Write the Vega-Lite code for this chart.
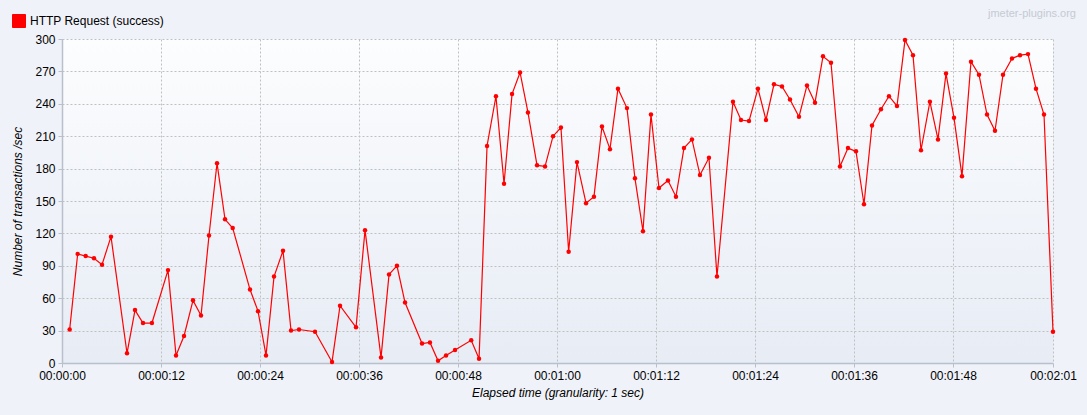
{
  "$schema": "https://vega.github.io/schema/vega-lite/v6.json",
  "width": 991,
  "height": 324,
  "autosize": {"type": "none"},
  "padding": {"left": 62, "top": 39, "right": 34, "bottom": 52},
  "background": "#eff2f8",
  "title": {
    "text": "jmeter-plugins.org",
    "anchor": "end",
    "frame": "group",
    "orient": "top",
    "offset": -5,
    "dx": 23,
    "font": "Liberation Sans",
    "fontSize": 11,
    "fontWeight": "normal",
    "color": "#c5cad4"
  },
  "data": {
    "values": [
      {"series": "HTTP Request (success)", "t": 0.93, "v": 31},
      {"series": "HTTP Request (success)", "t": 1.90, "v": 101},
      {"series": "HTTP Request (success)", "t": 2.87, "v": 99},
      {"series": "HTTP Request (success)", "t": 3.88, "v": 97},
      {"series": "HTTP Request (success)", "t": 4.85, "v": 91},
      {"series": "HTTP Request (success)", "t": 5.94, "v": 117},
      {"series": "HTTP Request (success)", "t": 7.88, "v": 9},
      {"series": "HTTP Request (success)", "t": 8.85, "v": 49},
      {"series": "HTTP Request (success)", "t": 9.82, "v": 37},
      {"series": "HTTP Request (success)", "t": 10.90, "v": 37},
      {"series": "HTTP Request (success)", "t": 12.85, "v": 86},
      {"series": "HTTP Request (success)", "t": 13.82, "v": 7},
      {"series": "HTTP Request (success)", "t": 14.79, "v": 25},
      {"series": "HTTP Request (success)", "t": 15.88, "v": 58},
      {"series": "HTTP Request (success)", "t": 16.85, "v": 44},
      {"series": "HTTP Request (success)", "t": 17.82, "v": 118},
      {"series": "HTTP Request (success)", "t": 18.79, "v": 185},
      {"series": "HTTP Request (success)", "t": 19.76, "v": 133},
      {"series": "HTTP Request (success)", "t": 20.69, "v": 125},
      {"series": "HTTP Request (success)", "t": 22.79, "v": 68},
      {"series": "HTTP Request (success)", "t": 23.76, "v": 48},
      {"series": "HTTP Request (success)", "t": 24.73, "v": 7},
      {"series": "HTTP Request (success)", "t": 25.70, "v": 80},
      {"series": "HTTP Request (success)", "t": 26.79, "v": 104},
      {"series": "HTTP Request (success)", "t": 27.76, "v": 30},
      {"series": "HTTP Request (success)", "t": 28.73, "v": 31},
      {"series": "HTTP Request (success)", "t": 30.67, "v": 29},
      {"series": "HTTP Request (success)", "t": 32.73, "v": 1},
      {"series": "HTTP Request (success)", "t": 33.70, "v": 53},
      {"series": "HTTP Request (success)", "t": 35.64, "v": 33},
      {"series": "HTTP Request (success)", "t": 36.73, "v": 123},
      {"series": "HTTP Request (success)", "t": 38.67, "v": 5},
      {"series": "HTTP Request (success)", "t": 39.64, "v": 82},
      {"series": "HTTP Request (success)", "t": 40.60, "v": 90},
      {"series": "HTTP Request (success)", "t": 41.58, "v": 56},
      {"series": "HTTP Request (success)", "t": 43.64, "v": 18},
      {"series": "HTTP Request (success)", "t": 44.60, "v": 19},
      {"series": "HTTP Request (success)", "t": 45.58, "v": 2},
      {"series": "HTTP Request (success)", "t": 46.55, "v": 7},
      {"series": "HTTP Request (success)", "t": 47.64, "v": 12},
      {"series": "HTTP Request (success)", "t": 49.60, "v": 21},
      {"series": "HTTP Request (success)", "t": 50.55, "v": 4},
      {"series": "HTTP Request (success)", "t": 51.52, "v": 201},
      {"series": "HTTP Request (success)", "t": 52.60, "v": 247},
      {"series": "HTTP Request (success)", "t": 53.58, "v": 166},
      {"series": "HTTP Request (success)", "t": 54.55, "v": 249},
      {"series": "HTTP Request (success)", "t": 55.52, "v": 269},
      {"series": "HTTP Request (success)", "t": 56.48, "v": 232},
      {"series": "HTTP Request (success)", "t": 57.58, "v": 183},
      {"series": "HTTP Request (success)", "t": 58.55, "v": 182},
      {"series": "HTTP Request (success)", "t": 59.52, "v": 210},
      {"series": "HTTP Request (success)", "t": 60.48, "v": 218},
      {"series": "HTTP Request (success)", "t": 61.41, "v": 103},
      {"series": "HTTP Request (success)", "t": 62.42, "v": 186},
      {"series": "HTTP Request (success)", "t": 63.52, "v": 148},
      {"series": "HTTP Request (success)", "t": 64.48, "v": 154},
      {"series": "HTTP Request (success)", "t": 65.45, "v": 219},
      {"series": "HTTP Request (success)", "t": 66.42, "v": 198},
      {"series": "HTTP Request (success)", "t": 67.39, "v": 254},
      {"series": "HTTP Request (success)", "t": 68.48, "v": 236},
      {"series": "HTTP Request (success)", "t": 69.45, "v": 171},
      {"series": "HTTP Request (success)", "t": 70.42, "v": 122},
      {"series": "HTTP Request (success)", "t": 71.39, "v": 230},
      {"series": "HTTP Request (success)", "t": 72.36, "v": 162},
      {"series": "HTTP Request (success)", "t": 73.45, "v": 169},
      {"series": "HTTP Request (success)", "t": 74.42, "v": 154},
      {"series": "HTTP Request (success)", "t": 75.39, "v": 199},
      {"series": "HTTP Request (success)", "t": 76.36, "v": 207},
      {"series": "HTTP Request (success)", "t": 77.33, "v": 174},
      {"series": "HTTP Request (success)", "t": 78.42, "v": 190},
      {"series": "HTTP Request (success)", "t": 79.39, "v": 80},
      {"series": "HTTP Request (success)", "t": 81.33, "v": 242},
      {"series": "HTTP Request (success)", "t": 82.30, "v": 225},
      {"series": "HTTP Request (success)", "t": 83.27, "v": 224},
      {"series": "HTTP Request (success)", "t": 84.36, "v": 254},
      {"series": "HTTP Request (success)", "t": 85.33, "v": 225},
      {"series": "HTTP Request (success)", "t": 86.30, "v": 258},
      {"series": "HTTP Request (success)", "t": 87.27, "v": 256},
      {"series": "HTTP Request (success)", "t": 88.24, "v": 244},
      {"series": "HTTP Request (success)", "t": 89.33, "v": 228},
      {"series": "HTTP Request (success)", "t": 90.30, "v": 257},
      {"series": "HTTP Request (success)", "t": 91.27, "v": 241},
      {"series": "HTTP Request (success)", "t": 92.24, "v": 284},
      {"series": "HTTP Request (success)", "t": 93.21, "v": 278},
      {"series": "HTTP Request (success)", "t": 94.30, "v": 182},
      {"series": "HTTP Request (success)", "t": 95.27, "v": 199},
      {"series": "HTTP Request (success)", "t": 96.24, "v": 196},
      {"series": "HTTP Request (success)", "t": 97.21, "v": 147},
      {"series": "HTTP Request (success)", "t": 98.18, "v": 220},
      {"series": "HTTP Request (success)", "t": 99.27, "v": 235},
      {"series": "HTTP Request (success)", "t": 100.24, "v": 247},
      {"series": "HTTP Request (success)", "t": 101.21, "v": 238},
      {"series": "HTTP Request (success)", "t": 102.18, "v": 299},
      {"series": "HTTP Request (success)", "t": 103.15, "v": 285},
      {"series": "HTTP Request (success)", "t": 104.12, "v": 197},
      {"series": "HTTP Request (success)", "t": 105.20, "v": 242},
      {"series": "HTTP Request (success)", "t": 106.18, "v": 207},
      {"series": "HTTP Request (success)", "t": 107.15, "v": 268},
      {"series": "HTTP Request (success)", "t": 108.12, "v": 227},
      {"series": "HTTP Request (success)", "t": 109.09, "v": 173},
      {"series": "HTTP Request (success)", "t": 110.18, "v": 279},
      {"series": "HTTP Request (success)", "t": 111.15, "v": 267},
      {"series": "HTTP Request (success)", "t": 112.12, "v": 230},
      {"series": "HTTP Request (success)", "t": 113.09, "v": 215},
      {"series": "HTTP Request (success)", "t": 114.06, "v": 267},
      {"series": "HTTP Request (success)", "t": 115.15, "v": 282},
      {"series": "HTTP Request (success)", "t": 116.12, "v": 285},
      {"series": "HTTP Request (success)", "t": 117.09, "v": 286},
      {"series": "HTTP Request (success)", "t": 118.06, "v": 254},
      {"series": "HTTP Request (success)", "t": 119.03, "v": 230},
      {"series": "HTTP Request (success)", "t": 120.12, "v": 29}
    ]
  },
  "mark": {
    "type": "line",
    "strokeWidth": 1.2,
    "point": {"filled": true, "size": 20, "opacity": 1}
  },
  "encoding": {
    "x": {
      "field": "t",
      "type": "quantitative",
      "scale": {"domain": [0, 120.12], "nice": false, "zero": false},
      "axis": {
        "values": [0, 12, 24, 36, 48, 60, 72, 84, 96, 108, 120.12],
        "labelExpr": "datum.value > 120 ? '00:02:01' : utcFormat(datum.value * 1000, '%H:%M:%S')",
        "title": "Elapsed time (granularity: 1 sec)",
        "titlePadding": 6,
        "labelPadding": 3,
        "labelFlush": false,
        "labelOverlap": false
      }
    },
    "y": {
      "field": "v",
      "type": "quantitative",
      "scale": {"domain": [0, 300], "nice": false},
      "axis": {
        "values": [0, 30, 60, 90, 120, 150, 180, 210, 240, 270, 300],
        "title": "Number of transactions /sec",
        "titlePadding": 10,
        "labelPadding": 3
      }
    },
    "color": {
      "field": "series",
      "type": "nominal",
      "scale": {"range": ["#ff0000"]},
      "legend": {
        "title": null,
        "orient": "none",
        "legendX": -50,
        "legendY": -25,
        "padding": 0,
        "symbolType": "square",
        "symbolSize": 169,
        "symbolStrokeWidth": 1,
        "symbolOffset": 0,
        "labelOffset": 4,
        "labelFont": "Liberation Sans",
        "labelFontSize": 12,
        "labelColor": "#000000",
        "labelLimit": 400,
        "encode": {
          "symbols": {"update": {"fill": {"value": "#ff0000"}, "stroke": {"value": "#b40000"}, "opacity": {"value": 1}}}
        }
      }
    }
  },
  "config": {
    "view": {
      "stroke": null,
      "fill": {
        "gradient": "linear",
        "x1": 0, "y1": 0, "x2": 0, "y2": 1,
        "stops": [
          {"offset": 0, "color": "#fcfdfe"},
          {"offset": 1, "color": "#e7ecf5"}
        ]
      }
    },
    "axis": {
      "labelFont": "Liberation Sans",
      "labelFontSize": 12,
      "labelColor": "#000000",
      "titleFont": "Liberation Sans",
      "titleFontSize": 12,
      "titleFontStyle": "italic",
      "titleFontWeight": "normal",
      "titleColor": "#000000",
      "domainColor": "#b9c0cb",
      "domainWidth": 1.5,
      "tickColor": "#b9c0cb",
      "tickSize": 4,
      "tickWidth": 1,
      "grid": true,
      "gridColor": "#c0c0c0",
      "gridDash": [2, 2],
      "gridWidth": 1
    }
  }
}
